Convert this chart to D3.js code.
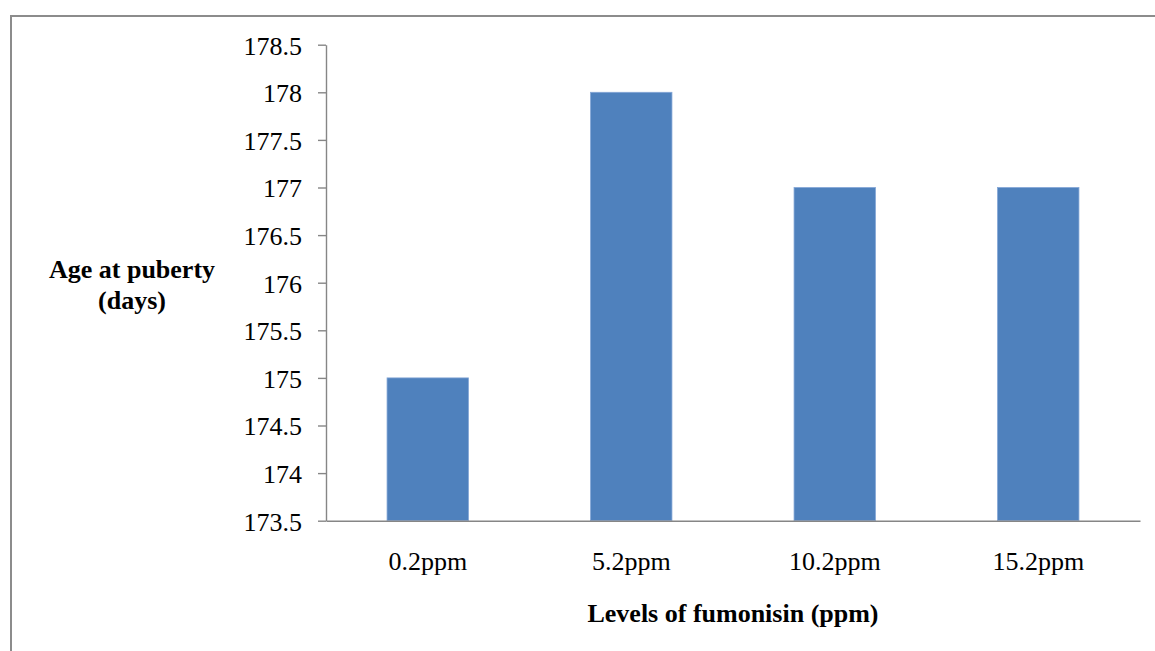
<!DOCTYPE html>
<meta charset="utf-8">
<script src="https://d3js.org/d3.v7.min.js"></script>
<style>
  body { margin: 0; background: #fff; }
  .axis path, .axis line { stroke: #868686; stroke-width: 1.4; }
</style>
<div id="chart"></div>
<script>
    // data
    var categories = ["0.2ppm", "5.2ppm", "10.2ppm", "15.2ppm"];
    var ages = [175, 178, 177, 177];
    var yTicks = [173.5, 174, 174.5, 175, 175.5, 176, 176.5, 177, 177.5, 178, 178.5];

    var W = 1155, H = 651;
    var serif = "'Liberation Serif', 'Times New Roman', serif";
    var margin = {top: 44.7, right: 15, bottom: 130.3, left: 326};

    var svg = d3.select("#chart")
      .append("svg")
        .attr("width", W)
        .attr("height", H)
        .attr("font-family", serif);

    // outer frame (only left and top edges are inside the picture)
    svg.append("rect")
        .attr("x", 11)
        .attr("y", 16)
        .attr("width", W + 20)
        .attr("height", H + 20)
        .attr("fill", "none")
        .attr("stroke", "#8c8c8c")
        .attr("stroke-width", 2);

    var x = d3.scaleBand()
        .domain(categories)
        .range([margin.left, W - margin.right])
        .paddingInner(0.6)
        .paddingOuter(0.3);

    var y = d3.scaleLinear()
        .domain([173.5, 178.5])
        .range([H - margin.bottom, margin.top]);

    // bars
    svg.selectAll("rect.bar")
        .data(ages)
        .enter()
        .append("rect")
        .attr("class", "bar")
        .attr("x", (d, i) => x(categories[i]))
        .attr("y", d => y(d))
        .attr("width", x.bandwidth())
        .attr("height", d => y(173.5) - y(d))
        .attr("fill", "#4f81bd")
        .attr("stroke", "#84a6d6")
        .attr("stroke-width", 0.8);

    // y axis
    var yAxis = svg.append("g")
        .attr("class", "axis")
        .attr("transform", "translate(" + margin.left + ",0)")
        .call(d3.axisLeft(y)
            .tickValues(yTicks)
            .tickFormat(d => String(d))
            .tickSize(8)
            .tickSizeOuter(0)
            .tickPadding(16));
    yAxis.attr("font-family", serif).attr("font-size", 26);
    yAxis.selectAll("text")
        .attr("font-family", serif)
        .attr("font-size", 26)
        .attr("fill", "#000")
        .attr("dy", "0.36em");

    // x axis
    var xAxis = svg.append("g")
        .attr("class", "axis")
        .attr("transform", "translate(0," + y(173.5) + ")")
        .call(d3.axisBottom(x).tickSize(0).tickSizeOuter(0).tickPadding(31));
    xAxis.attr("font-family", serif).attr("font-size", 26);
    xAxis.selectAll("text")
        .attr("font-family", serif)
        .attr("font-size", 26)
        .attr("fill", "#000");

    // axis titles
    svg.append("text")
        .attr("x", (margin.left + W - margin.right) / 2)
        .attr("y", 622)
        .attr("text-anchor", "middle")
        .attr("font-size", 26)
        .attr("font-weight", "bold")
        .text("Levels of fumonisin (ppm)");

    var yTitle = svg.append("text")
        .attr("text-anchor", "middle")
        .attr("font-size", 26)
        .attr("font-weight", "bold");
    yTitle.append("tspan").attr("x", 132).attr("y", 278).text("Age at puberty");
    yTitle.append("tspan").attr("x", 132).attr("y", 309).text("(days)");
</script>
